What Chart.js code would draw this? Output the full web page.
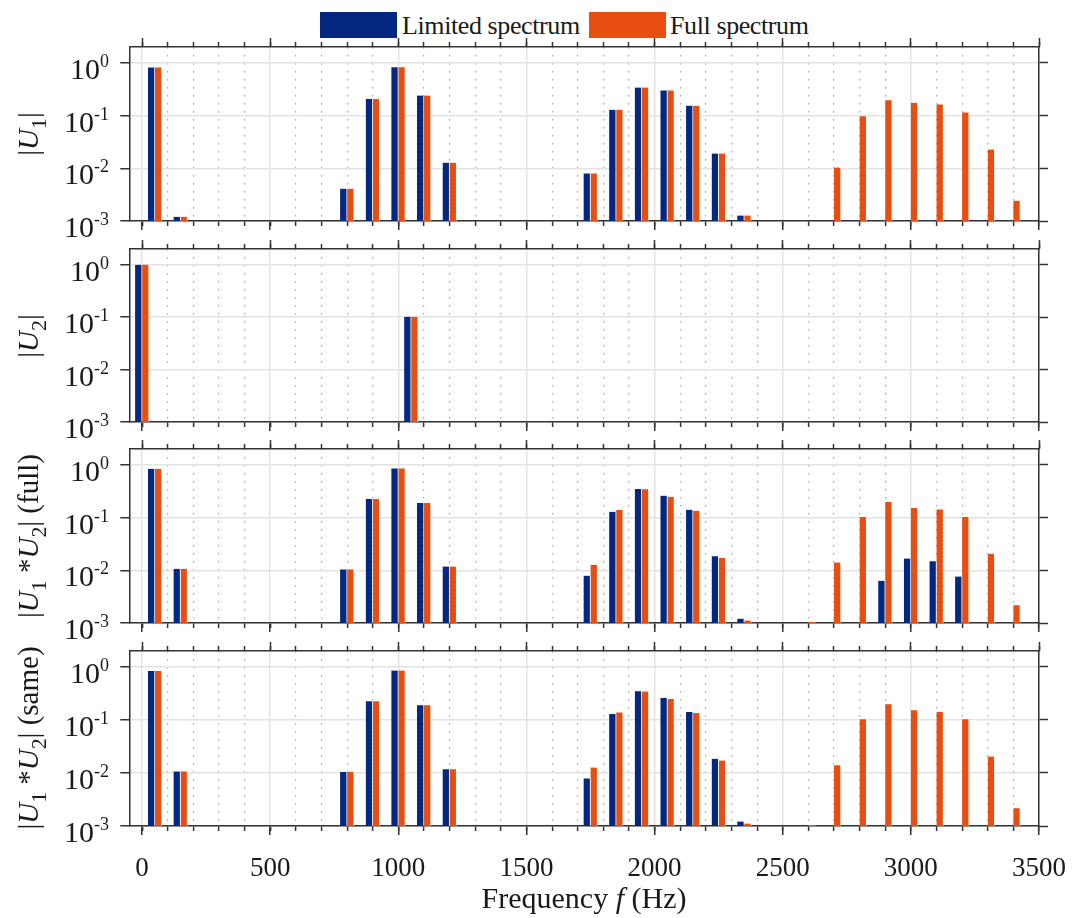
<!DOCTYPE html>
<html>
<head>
<meta charset="utf-8">
<script src="https://cdn.jsdelivr.net/npm/chart.js@4.4.0/dist/chart.umd.min.js"></script>
<style>
  body { margin: 0; background: #fff; }
  #wrap { position: relative; width: 1072px; height: 918px; overflow: hidden;
          font-family: "Liberation Serif", "Times New Roman", serif; color: #1a1a1a; }
  .panel { position: absolute; left: 0; }
  .swatch { position: absolute; top: 12px; width: 77px; height: 26px; }
  .legtxt { position: absolute; top: 11px; font-size: 26px; line-height: 30px; letter-spacing: -0.4px; white-space: nowrap; }
  .ytitle { position: absolute; white-space: nowrap; font-size: 29px; line-height: 29px;
            transform: translate(-50%, -50%) rotate(-90deg); }
  .sb { font-size: 0.75em; line-height: 0; vertical-align: -0.4em; }
  #xtitle { position: absolute; left: 584px; top: 883px; transform: translateX(-50%);
            font-size: 30px; line-height: 30px; white-space: nowrap; }
</style>
</head>
<body>
<div id="wrap">
  <div class="swatch" style="left:320px;background:#04287f"></div>
  <div class="legtxt" style="left:402px">Limited spectrum</div>
  <div class="swatch" style="left:589px;background:#e84e0f"></div>
  <div class="legtxt" style="left:670px">Full spectrum</div>

  <div class="panel" id="p0"><canvas id="c0"></canvas></div>
  <div class="panel" id="p1"><canvas id="c1"></canvas></div>
  <div class="panel" id="p2"><canvas id="c2"></canvas></div>
  <div class="panel" id="p3"><canvas id="c3"></canvas></div>

  <div class="ytitle" id="t0">|<i>U</i><span class="sb">1</span>|</div>
  <div class="ytitle" id="t1">|<i>U</i><span class="sb">2</span>|</div>
  <div class="ytitle" id="t2">|<i>U</i><span class="sb">1</span> *<i>U</i><span class="sb">2</span>| (full)</div>
  <div class="ytitle" id="t3">|<i>U</i><span class="sb">1</span> *<i>U</i><span class="sb">2</span>| (same)</div>

  <div id="xtitle">Frequency <i>f</i> (Hz)</div>
</div>

<script>
// tick labels
const xMajorTicks = [0, 500, 1000, 1500, 2000, 2500, 3000, 3500];
const xMinorTicks = Array.from({ length: 36 }, (_, i) => i * 100);
const yTickValues = [0.001, 0.01, 0.1, 1];
const yTickExponents = ['-3', '-2', '-1', '0'];

// |U1|
const u1LimitedFreq = [50, 150, 800, 900, 1000, 1100, 1200, 1750, 1850, 1950, 2050, 2150, 2250, 2350];
const u1Limited = [0.82, 0.0012, 0.0041, 0.206, 0.83, 0.24, 0.0128, 0.0080, 0.129, 0.34, 0.30, 0.154, 0.019, 0.00127];
const u1FullFreq = [50, 150, 800, 900, 1000, 1100, 1200, 1750, 1850, 1950, 2050, 2150, 2250, 2350,
  2700, 2800, 2900, 3000, 3100, 3200, 3300, 3400];
const u1Full = [0.82, 0.0012, 0.0041, 0.206, 0.83, 0.24, 0.0128, 0.0080, 0.129, 0.34, 0.30, 0.154, 0.019, 0.00127,
  0.0103, 0.0966, 0.195, 0.176, 0.163, 0.115, 0.0227, 0.00243];

// |U2|
const u2Freq = [0, 1050];
const u2Limited = [1.0, 0.102];
const u2Full = [1.0, 0.102];

// |U1*U2| (full)
const convFullLimitedFreq = [50, 150, 800, 900, 1000, 1100, 1200, 1750, 1850, 1950, 2050, 2150, 2250, 2350,
  2900, 3000, 3100, 3200];
const convFullLimited = [0.84, 0.0107, 0.0104, 0.225, 0.855, 0.19, 0.0118, 0.0079, 0.129, 0.347, 0.26, 0.141, 0.0185, 0.00121,
  0.0063, 0.0167, 0.0149, 0.0076];
const convFullFreq = [50, 150, 800, 900, 1000, 1100, 1200, 1750, 1850, 1950, 2050, 2150, 2250, 2350,
  2600, 2700, 2800, 2900, 3000, 3100, 3200, 3300, 3400];
const convFull = [0.84, 0.0107, 0.0104, 0.225, 0.855, 0.19, 0.0118, 0.0127, 0.139, 0.343, 0.248, 0.135, 0.0172, 0.00111,
  0.00105, 0.014, 0.103, 0.197, 0.152, 0.143, 0.103, 0.0205, 0.00216];

// |U1*U2| (same)
const convSameLimitedFreq = [50, 150, 800, 900, 1000, 1100, 1200, 1750, 1850, 1950, 2050, 2150, 2250, 2350];
const convSameLimited = [0.84, 0.0107, 0.0104, 0.225, 0.855, 0.19, 0.0118, 0.0079, 0.129, 0.347, 0.26, 0.141, 0.0185, 0.00121];
const convSameFreq = [50, 150, 800, 900, 1000, 1100, 1200, 1750, 1850, 1950, 2050, 2150, 2250, 2350,
  2600, 2700, 2800, 2900, 3000, 3100, 3200, 3300, 3400];
const convSame = [0.84, 0.0107, 0.0104, 0.225, 0.855, 0.19, 0.0118, 0.0127, 0.139, 0.343, 0.248, 0.135, 0.0172, 0.00111,
  0.00105, 0.014, 0.103, 0.197, 0.152, 0.143, 0.103, 0.0205, 0.00216];

const BLUE = '#04287f';
const ORANGE = '#e84e0f';
const AXIS = '#333333';
const GRID = '#e3e3e3';
const FONT = '"Liberation Serif", "Times New Roman", serif';

// plot area placement of each panel (px in the page)
const areaTops = [46.7, 249, 449.3, 651];
const areaHeights = [173.6, 173.4, 174, 174.8];
const plotLeft = 129.3;
const plotRight = 1039;

const toPoints = (xs, ys) => xs.map((x, i) => ({ x, y: ys[i] }));
const setTicks = list => scale => { scale.ticks = list.map(v => ({ value: v })); };

// draws 10^n labels with a raised exponent at the y ticks
const yLabelPlugin = {
  id: 'yLabels',
  afterDraw(chart) {
    const { ctx } = chart;
    const y = chart.scales.y;
    ctx.save();
    ctx.fillStyle = '#1a1a1a';
    ctx.textBaseline = 'alphabetic';
    ctx.textAlign = 'left';
    y.ticks.forEach((t, i) => {
      const py = y.getPixelForValue(t.value);
      const exp = yTickExponents[i];
      ctx.font = '18px ' + FONT;
      const ew = ctx.measureText(exp).width;
      ctx.font = '30px ' + FONT;
      const bw = ctx.measureText('10').width;
      const xr = 109;
      ctx.fillText('10', xr - ew - bw, py + 16);
      ctx.font = '18px ' + FONT;
      ctx.fillText(exp, xr - ew, py + 4);
    });
    ctx.restore();
  }
};

function makePanel(k, limX, limY, fullX, fullY, showXLabels) {
  const bottomH = showXLabels ? 58 : 12;
  const extra = showXLabels ? 0 : 14;
  const h = 12 + areaHeights[k] + bottomH + extra;
  const holder = document.getElementById('p' + k);
  holder.style.top = (areaTops[k] - 12) + 'px';
  const canvas = document.getElementById('c' + k);
  canvas.width = 1072;
  canvas.height = Math.round(h);
  canvas.style.width = '1072px';
  canvas.style.height = Math.round(h) + 'px';

  const title = document.getElementById('t' + k);
  title.style.left = '28px';
  title.style.top = (areaTops[k] + areaHeights[k] / 2) + 'px';

  const logY = {
    type: 'logarithmic', min: 0.001, max: 2, bounds: 'data',
    afterBuildTicks: setTicks(yTickValues)
  };
  const linX = {
    type: 'linear', min: -50, max: 3500, bounds: 'data', offset: false
  };
  const minorGrid = {
    color: c => (c.tick && c.tick.value % 500 === 0) ? 'rgba(0,0,0,0)' : '#a8a8a8',
    lineWidth: 1.2, offset: false,
    tickColor: AXIS, tickWidth: 1.5, tickLength: 5
  };

  return new Chart(canvas, {
    type: 'bar',
    data: {
      datasets: [
        {
          label: 'Limited spectrum',
          data: toPoints(limX, limY),
          backgroundColor: BLUE,
          borderColor: 'rgba(255,255,255,0.55)',
          borderWidth: { left: 0, right: 1, top: 0, bottom: 0 },
          barThickness: 7,
          xAxisID: 'x', yAxisID: 'y'
        },
        {
          label: 'Full spectrum',
          data: toPoints(fullX, fullY),
          backgroundColor: ORANGE,
          borderColor: 'rgba(255,255,255,0.55)',
          borderWidth: { left: 0, right: 1, top: 0, bottom: 0 },
          barThickness: 7,
          xAxisID: 'x', yAxisID: 'y'
        }
      ]
    },
    options: {
      responsive: false,
      animation: false,
      devicePixelRatio: 1,
      layout: { padding: { left: 0, right: 1072 - plotRight - 12, top: 0, bottom: extra } },
      plugins: { legend: { display: false }, tooltip: { enabled: false } },
      scales: {
        x: {
          ...linX, position: 'bottom', weight: 1,
          afterBuildTicks: setTicks(xMajorTicks),
          afterFit: s => { s.height = bottomH; s.paddingLeft = 0; s.paddingRight = 0; },
          grid: { color: GRID, lineWidth: 1.5, offset: false, tickColor: AXIS, tickWidth: 1.5, tickLength: 9 },
          border: { color: AXIS, width: 1.5 },
          ticks: {
            display: showXLabels, padding: 18, maxRotation: 0, autoSkip: false,
            color: '#1a1a1a', font: { family: FONT, size: 27 },
            callback: v => String(v)
          }
        },
        xMinor: {
          ...linX, position: 'bottom', weight: 0,
          afterBuildTicks: setTicks(xMinorTicks),
          afterFit: s => { s.height = 0; s.paddingLeft = 0; s.paddingRight = 0; },
          grid: minorGrid,
          border: { display: false, dash: [1.5, 6.5] },
          ticks: { display: false }
        },
        xTop: {
          ...linX, position: 'top', weight: 1,
          afterBuildTicks: setTicks(xMajorTicks),
          afterFit: s => { s.height = 12; },
          grid: { drawOnChartArea: false, offset: false, color: AXIS, tickColor: AXIS, tickWidth: 1.5, tickLength: 9 },
          border: { color: AXIS, width: 1.5 },
          ticks: { display: false }
        },
        xTopMinor: {
          ...linX, position: 'top', weight: 0,
          afterBuildTicks: setTicks(xMinorTicks),
          afterFit: s => { s.height = 0; },
          grid: { drawOnChartArea: false, offset: false, color: AXIS, tickColor: AXIS, tickWidth: 1.5, tickLength: 5 },
          border: { display: false },
          ticks: { display: false }
        },
        y: {
          ...logY, position: 'left',
          afterFit: s => { s.width = plotLeft; },
          grid: { color: GRID, lineWidth: 1.5, tickColor: AXIS, tickWidth: 1.5, tickLength: 9 },
          border: { color: AXIS, width: 1.5 },
          ticks: { display: false }
        },
        yRight: {
          ...logY, position: 'right',
          afterFit: s => { s.width = 12; },
          grid: { drawOnChartArea: false, color: AXIS, tickColor: AXIS, tickWidth: 1.5, tickLength: 9 },
          border: { color: AXIS, width: 1.5 },
          ticks: { display: false }
        }
      }
    },
    plugins: [yLabelPlugin]
  });
}

makePanel(0, u1LimitedFreq, u1Limited, u1FullFreq, u1Full, false);
makePanel(1, u2Freq, u2Limited, u2Freq, u2Full, false);
makePanel(2, convFullLimitedFreq, convFullLimited, convFullFreq, convFull, false);
makePanel(3, convSameLimitedFreq, convSameLimited, convSameFreq, convSame, true);
</script>
</body>
</html>
